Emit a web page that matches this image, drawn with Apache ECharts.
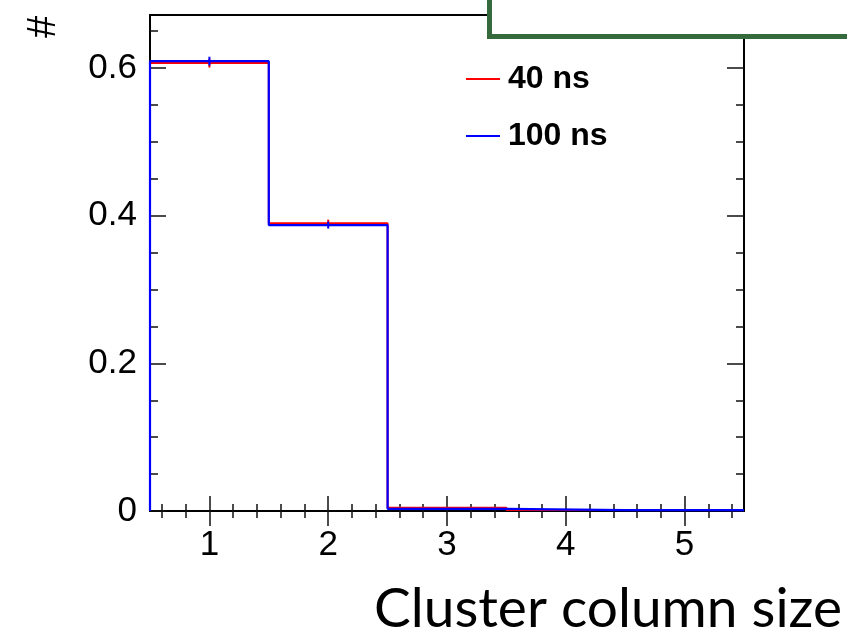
<!DOCTYPE html>
<html>
<head>
<meta charset="utf-8">
<script src="https://cdn.jsdelivr.net/npm/echarts@6/dist/echarts.min.js"></script>
<style>html,body{margin:0;padding:0;background:#fff}#c{width:847px;height:631px}</style>
</head>
<body>
<div id="c"></div>
<script>
// ---- data ----
var binCenters = [1, 2, 3, 4, 5];
var binWidth = 1;
var ns40 = [0.6068, 0.3900, 0.0045, 0.0012, 0.0012];
var ns40Err = [0.0060, 0.0048, 0.0005, 0.0002, 0.0002];
var ns100 = [0.6095, 0.3874, 0.0030, 0.0013, 0.0013];
var ns100Err = [0.0060, 0.0048, 0.0005, 0.0002, 0.0002];
var seriesNames = ['40 ns', '100 ns'];
var xTickLabels = [1, 2, 3, 4, 5];
var yTickLabels = [0, 0.2, 0.4, 0.6];
var xMinorTicks = [0.6,0.8,1.2,1.4,1.6,1.8,2.2,2.4,2.6,2.8,3.2,3.4,3.6,3.8,4.2,4.4,4.6,4.8,5.2,5.4];
var yMinorTicks = [0.05,0.1,0.15,0.25,0.3,0.35,0.45,0.5,0.55,0.65];
var xRange = [0.5, 5.5];
var yRange = [0, 0.672];

function stepPath(vals) {
  var pts = [[binCenters[0] - binWidth / 2, 0]];
  for (var i = 0; i < vals.length; i++) {
    var lo = binCenters[i] - binWidth / 2, hi = binCenters[i] + binWidth / 2;
    pts.push([lo, vals[i]]);
    pts.push([hi, vals[i]]);
  }
  return pts;
}
function errData(vals, errs) {
  return binCenters.map(function (c, i) { return [c, vals[i], errs[i]]; });
}
function errRender(color) {
  return function (params, api) {
    var x = api.value(0), v = api.value(1), e = api.value(2);
    var p1 = api.coord([x, v - e]), p2 = api.coord([x, v + e]);
    return { type: 'line', shape: { x1: p1[0], y1: p1[1], x2: p2[0], y2: p2[1] },
      style: { stroke: color, lineWidth: 2 } };
  };
}

var tickStyle = { color: '#111', width: 1.5 };
var labelFont = { fontFamily: 'Liberation Sans', fontSize: 35, color: '#000' };

function xAx(pos, vals, len, labels) {
  return {
    type: 'value', position: pos, min: xRange[0], max: xRange[1],
    axisLine: { show: false }, splitLine: { show: false },
    axisTick: { show: true, inside: true, length: len, lineStyle: tickStyle, customValues: vals },
    axisLabel: labels ? Object.assign({ show: true, margin: 17, customValues: vals,
      formatter: function (v) { return String(Math.round(v)); } }, labelFont) : { show: false }
  };
}
function yAx(pos, vals, len, labels) {
  return {
    type: 'value', position: pos, min: yRange[0], max: yRange[1],
    axisLine: { show: false }, splitLine: { show: false },
    axisTick: { show: true, inside: true, length: len, lineStyle: tickStyle, customValues: vals },
    axisLabel: labels ? Object.assign({ show: true, margin: 13, customValues: vals,
      formatter: function (v) { return v === 0 ? '0' : v.toFixed(1); } }, labelFont) : { show: false }
  };
}

var chart = echarts.init(document.getElementById('c'), null, { renderer: 'canvas' });
chart.setOption({
  animation: false,
  backgroundColor: '#fff',
  grid: { left: 150, top: 15, width: 594, height: 496, show: true, borderColor: '#000', borderWidth: 2, backgroundColor: 'transparent' },
  xAxis: [
    xAx('bottom', xTickLabels, 15, true),
    xAx('bottom', xMinorTicks, 7, false),
    xAx('top', xTickLabels, 15, false),
    xAx('top', xMinorTicks, 7, false)
  ],
  yAxis: [
    yAx('left', yTickLabels, 16, true),
    yAx('left', yMinorTicks, 8, false),
    yAx('right', yTickLabels, 17, false),
    yAx('right', yMinorTicks, 8, false)
  ],
  legend: {
    data: seriesNames, orient: 'vertical', left: 466, top: 63, itemGap: 25, padding: 0,
    itemWidth: 34, itemHeight: 2, icon: 'rect',
    textStyle: { fontFamily: 'Liberation Sans', fontWeight: 'bold', fontSize: 32, color: '#000', padding: [0, 0, 0, 3] }
  },
  series: [
    { name: seriesNames[0], type: 'line', data: stepPath(ns40), showSymbol: false, symbol: 'none',
      lineStyle: { color: '#ff0000', width: 2 }, itemStyle: { color: '#ff0000' }, z: 3 },
    { name: seriesNames[0] + ' err', type: 'custom', data: errData(ns40, ns40Err), renderItem: errRender('#ff0000'), z: 3 },
    { name: seriesNames[1], type: 'line', data: stepPath(ns100), showSymbol: false, symbol: 'none',
      lineStyle: { color: '#0000ff', width: 2.2 }, itemStyle: { color: '#0000ff' }, z: 4 },
    { name: seriesNames[1] + ' err', type: 'custom', data: errData(ns100, ns100Err), renderItem: errRender('#0000ff'), z: 4 }
  ],
  graphic: [
    { type: 'rect', shape: { x: 489.5, y: -20, width: 420, height: 56.5 }, z: 100,
      style: { fill: '#fff', stroke: '#346a3c', lineWidth: 5 } },
    { type: 'text', x: 44, y: 27, rotation: Math.PI / 2, z: 100,
      style: { text: '#', fontFamily: 'Liberation Sans', fontSize: 40, fill: '#000', align: 'center', verticalAlign: 'middle' } },
    { type: 'text', x: 842, y: 609, z: 100,
      style: { text: 'Cluster column size', fontFamily: 'Lato', fontSize: 55, fill: '#000', align: 'right', verticalAlign: 'middle' } }
  ]
});
</script>
</body>
</html>
